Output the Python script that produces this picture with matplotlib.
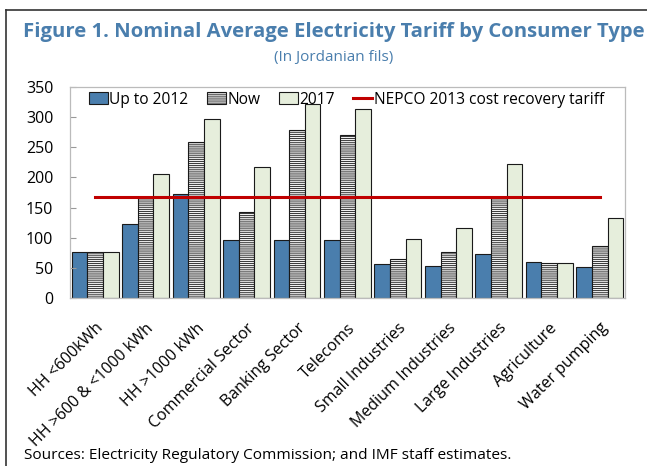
import numpy as np
import matplotlib.pyplot as plt
from matplotlib.lines import Line2D
import matplotlib.transforms as mtransforms

plt.rcParams['font.family'] = ['Open Sans', 'DejaVu Sans']
plt.rcParams['hatch.color'] = '#B5B5B5'
plt.rcParams['hatch.linewidth'] = 0.6

categories = ['HH <600kWh', 'HH >600 & <1000 kWh', 'HH >1000 kWh', 'Commercial Sector',
              'Banking Sector', 'Telecoms', 'Small Industries', 'Medium Industries',
              'Large Industries', 'Agriculture', 'Water pumping']
up_to_2012 = [76, 123, 173, 97, 97, 97, 56, 53, 73, 59, 52]
now = [76, 167, 259, 143, 278, 271, 64, 76, 167, 58, 86]
y2017 = [76, 205, 297, 218, 322, 314, 98, 116, 223, 58, 132]
nepco = 167

fig = plt.figure(figsize=(6.47, 4.66), dpi=100)
ax = fig.add_axes([0.108, 0.3605, 0.858, 0.4528])

x = np.arange(len(categories))
w = 0.31
ax.bar(x - w, up_to_2012, w, color='#4A7EAD', edgecolor='#1a1a1a', linewidth=0.8, label='Up to 2012')
ax.bar(x, now, w, color='#F0F0F0', edgecolor='#1a1a1a', linewidth=0.8, hatch='--------', label='Now')
ax.bar(x + w, y2017, w, color='#E6EEDC', edgecolor='#1a1a1a', linewidth=0.8, label='2017')
ax.plot([x[0], x[-1]], [nepco, nepco], color='#C00000', linewidth=2.2, label='NEPCO 2013 cost recovery tariff')

ax.set_xlim(-0.5, len(categories) - 0.5)
ax.set_ylim(0, 350)
ax.set_yticks(range(0, 351, 50))
ax.set_xticks(x)
ax.set_xticklabels(categories, rotation=45, ha='right', va='top', rotation_mode='anchor', fontsize=11.5)
offset = mtransforms.ScaledTranslation(10 / 100, 0, fig.dpi_scale_trans)
for lab in ax.get_xticklabels():
    lab.set_transform(lab.get_transform() + offset)
ax.tick_params(axis='y', direction='in', length=4, color='#999999', labelsize=11.5, pad=12)
ax.tick_params(axis='x', length=0, pad=16)
for s in ax.spines.values():
    s.set_color('#BBBBBB')
    s.set_linewidth(0.9)

handles, labels = ax.get_legend_handles_labels()
order = [1, 2, 3, 0]
ax.legend([handles[i] for i in order], [labels[i] for i in order], ncol=4, loc='upper left',
          bbox_to_anchor=(0.015, 1.03), frameon=False, fontsize=11.2,
          handlelength=1.2, handleheight=0.8, handletextpad=0.1, columnspacing=1.2, borderpad=0.2)

fig.text(0.516, 0.932, 'Figure 1. Nominal Average Electricity Tariff by Consumer Type',
         ha='center', va='center', fontsize=14.6, fontweight='bold', color='#4A7EAD')
fig.text(0.516, 0.877, '(In Jordanian fils)', ha='center', va='center', fontsize=11, color='#4A7EAD')
fig.text(0.037, 0.022, 'Sources: Electricity Regulatory Commission; and IMF staff estimates.',
         ha='left', va='center', fontsize=11.1)

# outer frame (left and top edges visible)
fig.add_artist(Line2D([0.009, 0.009], [0.0, 0.978], transform=fig.transFigure, color='#333333', linewidth=1.2))
fig.add_artist(Line2D([0.009, 1.0], [0.978, 0.978], transform=fig.transFigure, color='#333333', linewidth=1.2))

fig.savefig('out.png', dpi=100)
